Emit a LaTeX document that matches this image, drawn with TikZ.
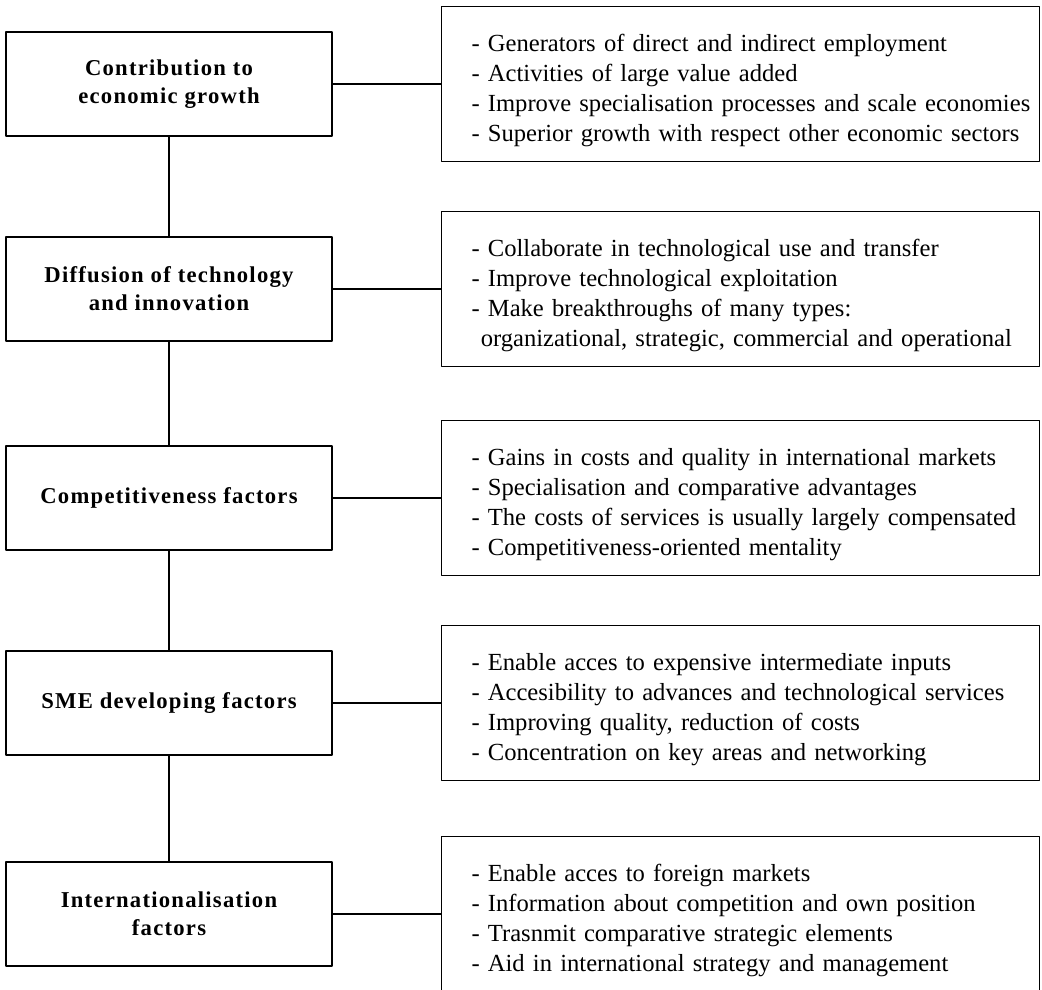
\documentclass[tikz,border=0pt]{standalone}
\usepackage{fontspec}
\setmainfont{Liberation Serif}
\newfontfamily\factorfont{Liberation Serif}[LetterSpace=5.5]
\newcommand\effectlist[1]{\begin{tabular}{@{}l@{}}\rule{0pt}{26pt}\ignorespaces#1\end{tabular}}
\begin{document}
\begin{tikzpicture}[x=0.75pt,y=-0.75pt,line join=round,line cap=round,
factor/.style={draw,line width=1.4pt,minimum width=244.5pt,minimum height=78pt,align=center,
  font=\factorfont\bfseries\fontsize{17}{21}\selectfont},
effects/.style={draw,line width=1.4pt,minimum width=448.5pt,minimum height=116.25pt,inner xsep=22.5pt,
  text width=403.5pt,align=left,font=\fontsize{18.45}{22.5}\selectfont},
link/.style={line width=1.6pt}]
\path (0,0) coordinate (O) (1042,989) coordinate (E);
\useasboundingbox (O) rectangle (E);
\node[factor] (F1) at (169,84) {Contribution to\\economic growth};
\node[factor] (F2) at (169,289) {Diffusion of technology\\and innovation};
\node[factor] (F3) at (169,498) {Competitiveness factors};
\node[factor] (F4) at (169,703) {SME developing factors};
\node[factor] (F5) at (169,914) {Internationalisation\\factors};
\node[effects] (E1) at (740.5,84) {\effectlist{%
- Generators of direct and indirect employment\\
- Activities of large value added\\
- Improve specialisation processes and scale economies\\
- Superior growth with respect other economic sectors}};
\node[effects] (E2) at (740.5,289) {\effectlist{%
- Collaborate in technological use and transfer\\
- Improve technological exploitation\\
- Make breakthroughs of many types:\\
\hspace*{7pt}organizational, strategic, commercial and operational}};
\node[effects] (E3) at (740.5,498) {\effectlist{%
- Gains in costs and quality in international markets\\
- Specialisation and comparative advantages\\
- The costs of services is usually largely compensated\\
- Competitiveness-oriented mentality}};
\node[effects] (E4) at (740.5,703) {\effectlist{%
- Enable acces to expensive intermediate inputs\\
- Accesibility to advances and technological services\\
- Improving quality, reduction of costs\\
- Concentration on key areas and networking}};
\node[effects] (E5) at (740.5,914) {\effectlist{%
- Enable acces to foreign markets\\
- Information about competition and own position\\
- Trasnmit comparative strategic elements\\
- Aid in international strategy and management}};
\foreach \a/\b in {F1/F2,F2/F3,F3/F4,F4/F5}
\draw[link] (\a)--(\b);
\foreach \i in {1,...,5}
\draw[link] (F\i)--(E\i);
\end{tikzpicture}
\end{document}
